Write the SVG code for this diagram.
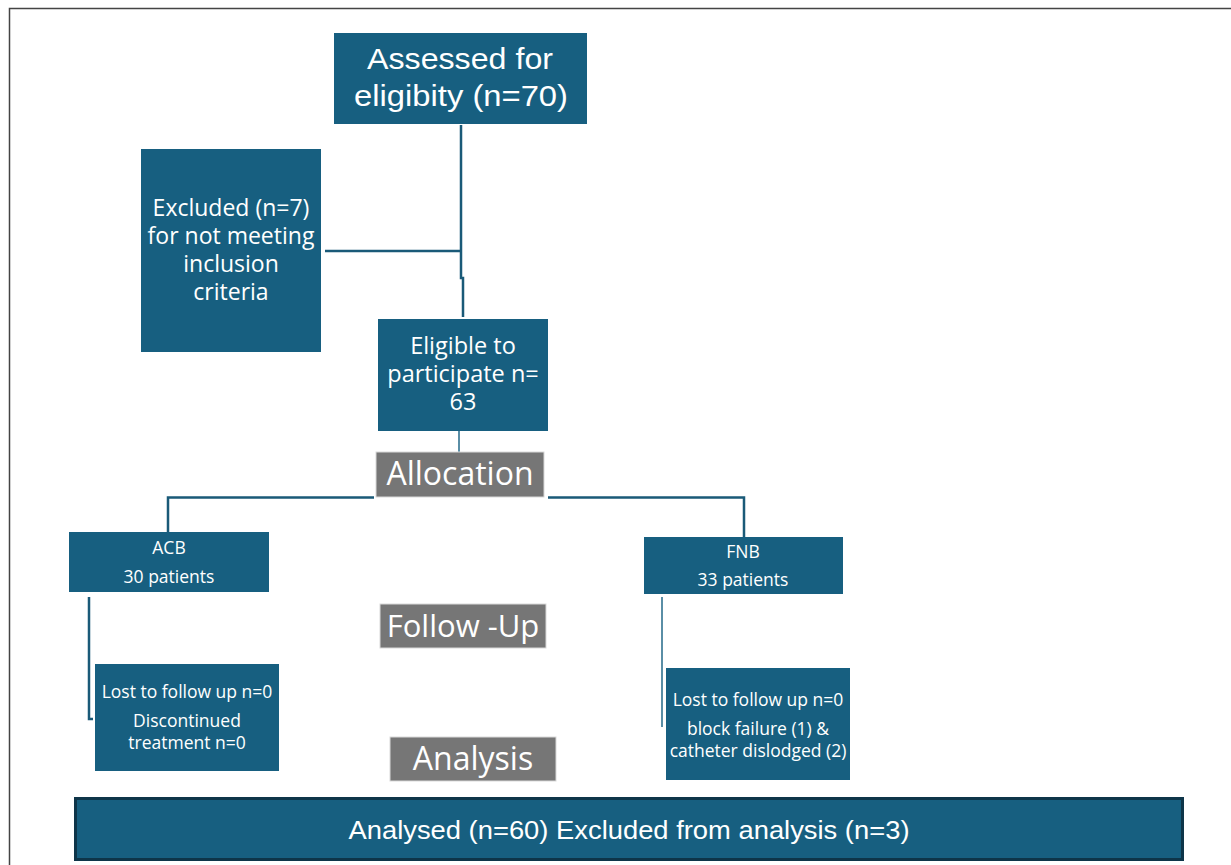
<svg xmlns="http://www.w3.org/2000/svg" width="1231" height="865" viewBox="0 0 1231 865">
<style>
.box{fill:#175f80;}
.gray{fill:#767676;stroke:#d9d9d9;stroke-width:1;}
.t{fill:#ffffff;font-family:"Open Sans","Noto Sans",sans-serif;text-anchor:middle;}
.n{fill:#ffffff;font-family:"Liberation Sans",Arial,sans-serif;text-anchor:middle;}
.s{font-size:17.5px;}
.c{fill:none;stroke:#1a5a78;stroke-width:2.5;}
.cl{fill:none;stroke:#5a8ea6;stroke-width:2;}
</style>
<rect x="0" y="0" width="1231" height="865" fill="#ffffff"/>
<path d="M9.5 865 V8.5 H1231" fill="none" stroke="#444" stroke-width="1.5"/>
<g id="connectors">
<path class="c" d="M461 125 V278 H463 V317"/>
<path class="c" d="M325 251 H461"/>
<path class="cl" d="M459 431 V452"/>
<path class="c" d="M374 497.5 H168 V532"/>
<path class="c" d="M548 497.5 H744 V537"/>
<path class="c" d="M89 597 V719 H93"/>
<path class="cl" d="M662 597 V727"/>
</g>
<g id="assessed">
<rect class="box" x="334" y="33" width="253" height="91"/>
<text class="n" x="460" y="69" font-size="30" textLength="186" lengthAdjust="spacingAndGlyphs">Assessed for</text>
<text class="n" x="461" y="106" font-size="30" textLength="214" lengthAdjust="spacingAndGlyphs">eligibity (n=70)</text>
</g>
<g id="excluded">
<rect class="box" x="141" y="149" width="180" height="203"/>
<text class="t" x="231" y="216" font-size="23">Excluded (n=7)</text>
<text class="t" x="231" y="244" font-size="23">for not meeting</text>
<text class="t" x="231" y="272" font-size="23">inclusion</text>
<text class="t" x="231" y="300" font-size="23">criteria</text>
</g>
<g id="eligible">
<rect class="box" x="378" y="319" width="170" height="112"/>
<text class="t" x="463" y="354" font-size="23.5">Eligible to</text>
<text class="t" x="463" y="382" font-size="23.5">participate n=</text>
<text class="t" x="463" y="410" font-size="23.5">63</text>
</g>
<g id="allocation">
<rect class="gray" x="376" y="452" width="168" height="45"/>
<text class="t" x="460" y="485" font-size="32">Allocation</text>
</g>
<g id="acb">
<rect class="box" x="69" y="532" width="200" height="60"/>
<text class="t s" x="169" y="554">ACB</text>
<text class="t s" x="169" y="583">30 patients</text>
</g>
<g id="fnb">
<rect class="box" x="644" y="537" width="199" height="57"/>
<text class="t s" x="743" y="558">FNB</text>
<text class="t s" x="743" y="586">33 patients</text>
</g>
<g id="followup">
<rect class="gray" x="380" y="604" width="166" height="44"/>
<text class="t" x="463" y="637" font-size="31">Follow -Up</text>
</g>
<g id="acb-lost">
<rect class="box" x="95" y="664" width="184" height="107"/>
<text class="t s" x="187" y="698">Lost to follow up n=0</text>
<text class="t s" x="187" y="727">Discontinued</text>
<text class="t s" x="187" y="749">treatment n=0</text>
</g>
<g id="fnb-lost">
<rect class="box" x="666" y="668" width="184" height="112"/>
<text class="t s" x="758" y="706">Lost to follow up n=0</text>
<text class="t s" x="758" y="735">block failure (1) &amp;</text>
<text class="t s" x="758" y="757">catheter dislodged (2)</text>
</g>
<g id="analysis">
<rect class="gray" x="390" y="737" width="166" height="44"/>
<text class="t" x="473" y="770" font-size="32">Analysis</text>
</g>
<g id="analysed">
<rect class="box" x="75.5" y="798.5" width="1107" height="61" stroke="#0e3549" stroke-width="3"/>
<text class="n" x="629" y="839" font-size="26" textLength="561" lengthAdjust="spacingAndGlyphs">Analysed (n=60) Excluded from analysis (n=3)</text>
</g>
</svg>
